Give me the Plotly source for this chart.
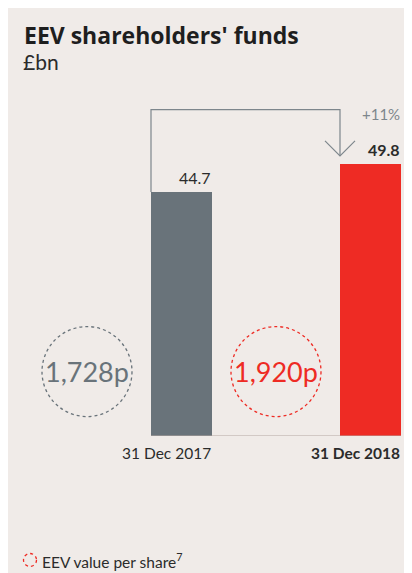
import plotly.graph_objects as go

categories = ["31 Dec 2017", "31 Dec 2018"]
values = [44.7, 49.8]
value_labels = ["44.7", "49.8"]
per_share = ["1,728p", "1,920p"]
change_label = "+11%"
bar_colors = ["#69737a", "#ee2b24"]

BG = "#f0ebe8"
OFF = 8  # page offset of the figure (body margin)
W, H = 412 - OFF, 573 - OFF
BASE = 436  # page y of baseline
L, R, T = 0, 0, 0
B = (573 - OFF) - (BASE - OFF)
PX_PER_UNIT = 5.46
plot_h = H - T - B
plot_w = W - L - R
ymax = plot_h / PX_PER_UNIT
cat_px = 189.0
x0 = -(181.5 - OFF) / cat_px
x1 = x0 + plot_w / cat_px
bw = 61 / cat_px
hb = bw / 2


def px(xp):
    return (xp - OFF) / plot_w


def py(yp):
    return (BASE - yp) / plot_h


fig = go.Figure()
fig.add_trace(go.Bar(x=categories, y=values, marker=dict(color=bar_colors, line=dict(width=0)),
                     width=bw, hoverinfo="skip"))

shapes = []
shapes.append(dict(type="line", xref="x", yref="y", x0=-hb, x1=len(values) - 1 + hb, y0=0, y1=0,
                   line=dict(color="#b3a7a1", width=1.2), layer="above"))
top_y = max(values) * 1.2
tip_y = values[1] + 1.5
lc = "#7d868c"
shapes.append(dict(type="path", xref="x", yref="y",
                   path=f"M {-hb},{values[0]} L {-hb},{top_y} L {1 - hb},{top_y} L {1 - hb},{tip_y}",
                   line=dict(color=lc, width=1.2)))
ax = 15 / cat_px
ay = 15 / PX_PER_UNIT
shapes.append(dict(type="path", xref="x", yref="y",
                   path=f"M {1 - hb - ax},{tip_y + ay} L {1 - hb},{tip_y} L {1 - hb + ax},{tip_y + ay}",
                   line=dict(color=lc, width=1.2)))
circ_y = 11.8
for i, txt in enumerate(per_share):
    shapes.append(dict(type="circle", xref="x", yref="y", xsizemode="pixel", ysizemode="pixel",
                       xanchor=i - 0.5, yanchor=circ_y, x0=-45, x1=45, y0=-45, y1=45,
                       line=dict(color=bar_colors[i], width=1.3, dash="dot")))
shapes.append(dict(type="circle", xref="paper", yref="paper",
                   x0=px(23.5), x1=px(36.5), y0=py(566.5), y1=py(553.5),
                   line=dict(color=bar_colors[1], width=1.3, dash="dot")))

FONT = "Lato"
TXT = "#2b2b2b"
ann = []
for i, (c, v, lab) in enumerate(zip(categories, values, value_labels)):
    bold = i == len(values) - 1
    ann.append(dict(x=i, y=v, xref="x", yref="y", text=f"<b>{lab}</b>" if bold else lab,
                    xanchor="right", yanchor="bottom", xshift=30.5 + 1, yshift=3, showarrow=False,
                    font=dict(family=FONT, size=16, color=TXT)))
    ann.append(dict(x=i, y=0, xref="x", yref="y", text=f"<b>{c}</b>" if bold else c,
                    xanchor="right", yanchor="top", xshift=30.5 + 1, yshift=-6, showarrow=False,
                    font=dict(family=FONT, size=15.5, color=TXT)))
    ann.append(dict(x=i - 0.5, y=circ_y, xref="x", yref="y", text=per_share[i],
                    xanchor="center", yanchor="middle", showarrow=False,
                    font=dict(family=FONT, size=27, color=bar_colors[i])))
ann.append(dict(x=1, y=values[1], xref="x", yref="y", text=change_label,
                xanchor="right", yanchor="bottom", xshift=31.5, yshift=39, showarrow=False,
                font=dict(family=FONT, size=15, color="#7d868c")))
ann.append(dict(x=px(22), y=py(35), xref="paper", yref="paper",
                text="<b>EEV shareholders' funds</b>", xanchor="left", yanchor="middle",
                showarrow=False, font=dict(family="Open Sans", size=23, color="#1e1e1e")))
ann.append(dict(x=px(21), y=py(62), xref="paper", yref="paper",
                text="£bn", xanchor="left", yanchor="middle",
                showarrow=False, font=dict(family=FONT, size=21, color=TXT)))
ann.append(dict(x=px(40), y=py(560), xref="paper", yref="paper",
                text="EEV value per share<sup>7</sup>", xanchor="left", yanchor="middle",
                showarrow=False, font=dict(family=FONT, size=15.5, color=TXT)))

fig.update_layout(
    width=W, height=H, margin=dict(l=L, r=R, t=T, b=B, pad=0),
    paper_bgcolor=BG, plot_bgcolor=BG, showlegend=False,
    xaxis=dict(range=[x0, x1], showgrid=False, showticklabels=False, zeroline=False,
               showline=False, ticks="", fixedrange=True),
    yaxis=dict(range=[0, ymax], showgrid=False, showticklabels=False, zeroline=False,
               showline=False, ticks="", fixedrange=True),
    shapes=shapes, annotations=ann, bargap=0,
)
fig.write_html("out.html")
